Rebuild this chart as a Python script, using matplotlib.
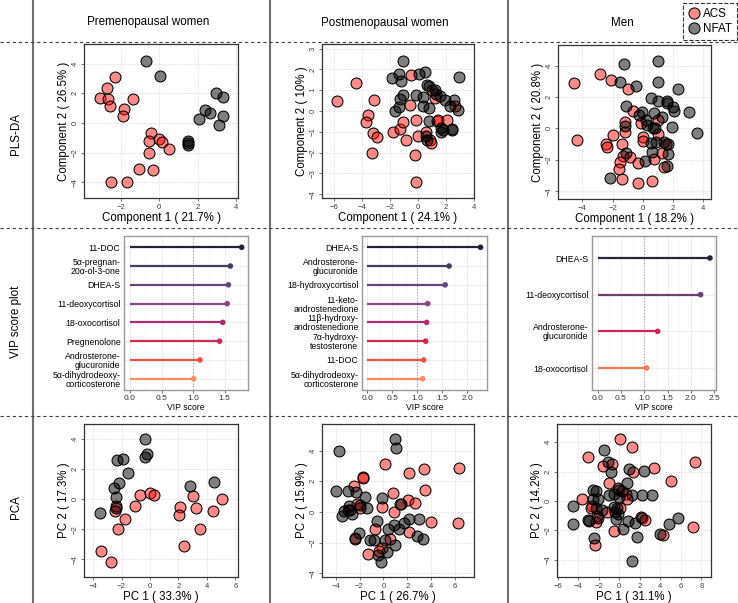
import matplotlib
matplotlib.use('Agg')
import matplotlib.pyplot as plt
from matplotlib.lines import Line2D
import numpy as np

plt.rcParams['font.family'] = ['Liberation Sans', 'DejaVu Sans']

# ---------------- DATA ----------------
col_titles = ["Premenopausal women", "Postmenopausal women", "Men"]
row_titles = ["PLS-DA", "VIP score plot", "PCA"]
groups = ["ACS", "NFAT"]

# PLS-DA premenopausal
pre_pls_acs_x = [-2.3, -2.7, -3.08, -2.64, -2.54, -1.81, -1.86, -1.34, -0.43, -0.5, 0.02, 0.14, -0.54, 0.54, -1.03, -0.3, -2.5, -1.69]
pre_pls_acs_y = [3.08, 2.36, 1.69, 1.62, 1.12, 0.97, 0.49, 1.64, -0.67, -1.19, -1.08, -1.28, -2.02, -1.78, -3.1, -3.21, -4.0, -3.98]
pre_pls_nfat_x = [-0.66, 0.05, 2.96, 3.3, 2.4, 2.66, 2.05, 3.3, 3.13, 1.51, 1.51, 1.51]
pre_pls_nfat_y = [4.2, 3.15, 2.02, 1.73, 0.9, 0.65, 0.27, 0.45, -0.13, -1.24, -1.35, -1.48]

# PLS-DA postmenopausal
post_pls_acs_x = [-5.82, -4.44, -3.16, -3.61, -3.75, -3.21, -2.97, -3.33, -1.78, -1.31, -1.07, -0.88, -0.59, -0.52, -0.19, 0.0, -0.26, -0.12, 0.59, 0.83, 0.9, 1.02, 1.21, 1.35, 1.43, 2.09, 2.61]
post_pls_acs_y = [0.5, 1.35, 0.54, -0.21, -0.53, -1.06, -1.27, -2.02, -1.03, -0.87, -0.53, -1.38, 0.3, 1.75, -0.42, -1.22, -2.13, -3.43, -1.01, -1.38, -1.54, 0.99, 0.63, -0.46, -0.42, -0.42, 0.26]
post_pls_nfat_x = [-1.12, -1.38, -1.9, -1.24, -1.12, -1.31, -1.35, -1.64, -0.19, 0.07, 0.48, 0.64, 0.78, 0.36, 0.36, 0.76, 0.78, 1.21, 1.31, 1.54, 1.9, 2.26, 2.54, 2.85, 2.9, 1.66, 1.66, 1.78, 2.4, 2.4, 0.55, 0.64]
post_pls_nfat_y = [2.42, 1.78, 1.59, 1.46, 0.79, 0.58, 0.18, 0.02, 0.77, 1.79, 1.86, 1.27, 1.22, 0.66, 0.26, 0.14, -0.5, 0.99, 0.83, 0.71, 0.51, 0.22, 0.54, 0.06, 1.62, -0.82, -1.01, -0.9, -0.87, -0.93, -1.19, -1.38]

# PLS-DA men
men_pls_acs_x = [-4.58, -2.84, -2.11, -0.96, -4.33, -2.44, -2.4, -2.0, -1.4, -1.18, -1.2, -1.29, -1.51, -1.56, -1.38, -0.84, -0.67, -0.33, -0.33, 0.04, 0.04, -0.13, 0.64, 0.78, 1.04, 1.04, 1.27, 1.38, 1.56]
men_pls_acs_y = [2.89, 3.44, 3.08, 2.51, -0.74, -1.02, -1.17, -0.42, -1.0, 0.42, -0.25, -1.74, -2.17, -2.61, -3.23, -1.8, 1.1, -3.46, -2.19, -0.53, -0.81, 0.32, -3.35, -1.97, 0.53, -0.36, -1.59, -2.44, -1.0]
men_pls_nfat_x = [-1.22, 1.04, -1.51, -0.47, 1.04, 2.33, 0.53, 1.04, 1.6, 1.64, 2.0, 2.09, 3.04, -1.13, -0.07, -0.24, 0.22, 0.27, 0.67, 0.82, 0.78, 1.27, 1.93, 3.6, -1.18, -1.11, 0.56, 0.6, 0.89, 1.38, 1.71, 1.71, 1.6, 0.16, -2.18]
men_pls_nfat_y = [4.08, 4.29, 2.97, 2.7, 2.97, 2.51, 1.95, 1.76, 1.76, 1.59, 1.38, 1.1, 1.06, 1.42, 1.02, 0.85, 0.53, 0.21, 0.04, 0.0, 0.96, 0.74, 0.11, -0.32, 0.15, -1.59, -0.96, -1.49, -0.85, -0.89, -1.0, -1.63, -2.38, -2.06, -3.14]

# VIP scores
pre_vip_labels = ["11-DOC", "5α-pregnan-\n20α-ol-3-one", "DHEA-S", "11-deoxycortisol", "18-oxocortisol", "Pregnenolone", "Androsterone-\nglucuronide", "5α-dihydrodeoxy-\ncorticosterone"]
pre_vip_values = [1.77, 1.59, 1.56, 1.54, 1.47, 1.42, 1.11, 1.01]
post_vip_labels = ["DHEA-S", "Androsterone-\nglucuronide", "18-hydroxycortisol", "11-keto-\nandrostenedione", "11β-hydroxy-\nandrostenedione", "7α-hydroxy-\ntestosterone", "11-DOC", "5α-dihydrodeoxy-\ncorticosterone"]
post_vip_values = [2.27, 1.64, 1.56, 1.21, 1.19, 1.17, 1.13, 1.11]
men_vip_labels = ["DHEA-S", "11-deoxycortisol", "Androsterone-\nglucuronide", "18-oxocortisol"]
men_vip_values = [2.41, 2.21, 1.29, 1.05]

# PCA premenopausal
pre_pca_acs_x = [-0.71, 0.0, 0.28, -1.06, -2.4, -2.45, -1.76, -2.24, -3.41, -2.71, 3.01, 2.12, 2.05, 3.25, 5.06, 4.4, 3.53, 2.42]
pre_pca_acs_y = [0.27, 0.42, 0.27, -0.44, -0.44, -0.78, -1.33, -1.96, -3.47, -4.18, 0.2, -0.51, -1.07, -0.62, 0.04, -0.8, -2.0, -3.13]
pre_pca_nfat_x = [-0.35, -0.24, -0.35, -2.31, -1.88, -1.53, -2.19, -2.54, -2.4, -3.53, 2.78, 4.52, -2.4]
pre_pca_nfat_y = [4.0, 2.98, 2.82, 2.6, 2.67, 1.76, 1.09, 0.76, 0.16, -0.89, 0.89, 1.11, -0.62]

# PCA postmenopausal
post_pca_acs_x = [0.14, -1.75, -1.67, -2.5, 2.14, 3.39, 6.31, 3.47, 0.78, 2.08, 2.64, 1.44, -0.08, 0.92, -2.17, -1.94, -3.0, 3.97, 6.25, -0.69, 2.17, 0.56, -2.36, -1.33, -0.14, -0.33]
post_pca_acs_y = [3.09, 2.29, 2.22, 1.68, 2.51, 2.77, 2.88, 1.42, 1.2, 0.76, 0.59, 0.5, 0.33, 0.0, 0.48, 0.28, 0.11, -0.65, -0.72, -1.09, -1.31, -1.74, -1.68, -2.72, -2.33, -2.57]
post_pca_nfat_x = [0.97, 1.03, -3.75, -3.94, -3.0, -2.28, -1.5, -0.11, -2.92, -3.28, -2.78, -2.64, -3.47, -1.39, -1.94, -0.56, -2.03, -1.11, -0.83, 0.14, 0.42, 0.92, 1.33, 1.75, 2.17, 3.0, 2.83, 3.33, 0.97, 0.33, -0.42, -0.22, 1.39, -2.36]
post_pca_nfat_y = [4.75, 4.14, 3.99, 1.35, 1.35, 1.31, 0.98, 0.92, 0.37, 0.07, 0.11, -0.11, -0.28, 0.26, 0.44, -0.59, -1.37, -1.85, -1.81, -1.81, -1.15, -0.83, -1.09, -0.76, -0.44, -0.44, -1.59, -1.74, -2.18, -2.61, -2.79, -3.27, 0.5, -1.74]

# PCA men
men_pca_acs_x = [0.06, 1.2, -3.02, -1.56, -0.75, 7.37, 1.36, 3.38, 5.0, -0.97, -3.6, 0.0, 0.65, 0.78, -2.66, -2.76, 0.06, -1.23, -2.14, -2.27, 2.18, 2.5, -0.49, 4.22, 7.21, -2.37]
men_pca_acs_y = [4.21, 3.64, 2.96, 2.37, 2.48, 2.62, 1.98, 2.26, 1.37, 1.25, 0.11, 0.77, 0.46, 0.16, -0.36, -0.46, -0.46, -0.75, -1.05, -1.44, -1.14, -1.28, -2.07, -2.35, -1.78, -3.03]
men_pca_nfat_x = [-1.49, -1.14, -0.84, 0.97, 2.44, 0.71, -0.1, -2.53, -2.27, -0.97, -0.55, 0.23, 1.2, 2.18, 3.15, 0.0, -2.6, -2.05, -4.55, -2.27, -1.72, -0.52, -0.26, -0.42, -0.16, -0.32, -2.05, -3.02, -2.92, -4.48, 0.81, 1.53, 0.39, 4.84, 5.75, 3.96, 1.69, -2.44, 1.27, 2.11]
men_pca_nfat_y = [3.46, 2.62, 1.94, 2.14, 2.03, 1.23, 0.91, 0.73, 0.66, 0.39, 0.5, 0.66, 0.39, 0.39, 0.43, 0.23, 0.11, 0.11, -0.36, -0.46, -0.59, -0.41, -0.46, -0.75, -0.91, -1.21, -1.14, -1.28, -1.39, -1.59, -1.39, -1.48, -1.94, -1.55, -1.16, -2.23, -2.46, -2.51, -4.12, -1.09]

pls_xlabels = ["Component 1 ( 21.7% )", "Component 1 ( 24.1% )", "Component 1 ( 18.2% )"]
pls_ylabels = ["Component 2 ( 26.5% )", "Component 2 ( 10% )", "Component 2 ( 20.8% )"]
pca_xlabels = ["PC 1 ( 33.3% )", "PC 1 ( 26.7% )", "PC 1 ( 31.1% )"]
pca_ylabels = ["PC 2 ( 17.3% )", "PC 2 ( 15.9% )", "PC 2 ( 14.2% )"]

# ---------------- STYLE ----------------
W, H = 738, 603
fig = plt.figure(figsize=(W / 100, H / 100), dpi=100)

ACS_FACE = (1.0, 0.0, 0.0, 0.46)
NFAT_FACE = (0.0, 0.0, 0.0, 0.5)
PAL8 = ['#222236', '#463d5e', '#66457a', '#874581', '#ad2b70', '#d0284f', '#f05043', '#f78d62']
PAL4 = ['#262638', '#6e3d72', '#d0245a', '#f57a50']


def add_ax(l, t, r, b):
    return fig.add_axes([l / W, 1 - b / H, (r - l) / W, (b - t) / H])


def scatter_panel(ax, ax_, ay_, nx_, ny_, xlim, ylim, xticks, yticks, xlabel, ylabel):
    ax.scatter(ax_, ay_, s=62, facecolors=[ACS_FACE], edgecolors='black', linewidths=0.75, zorder=3)
    ax.scatter(nx_, ny_, s=62, facecolors=[NFAT_FACE], edgecolors='black', linewidths=0.75, zorder=3)
    ax.set_xlim(xlim)
    ax.set_ylim(ylim)
    ax.set_xticks(xticks)
    ax.set_yticks(yticks)
    ax.grid(True, linestyle=':', color='#cfcfcf', lw=0.6)
    ax.set_axisbelow(True)
    ax.tick_params(labelsize=5.6, colors='#404040', length=2.5, width=0.5, pad=1.5)
    for lab in ax.get_yticklabels():
        lab.set_rotation(90)
        lab.set_va('center')
    for s in ax.spines.values():
        s.set_color('#333333')
        s.set_linewidth(0.9)
    ax.set_xlabel(xlabel, fontsize=8.3, labelpad=1)
    ax.set_ylabel(ylabel, fontsize=8.3, labelpad=1)


def vip_panel(ax, labels, values, colors, xlim, xticks):
    n = len(labels)
    pos = np.arange(n, 0, -1)
    ax.axvline(1.0, color='#a0a0a0', ls=':', lw=0.8, zorder=2)
    ax.hlines(pos, 0, values, colors=colors, lw=1.6, zorder=3)
    ax.scatter(values, pos, color=colors, s=9, zorder=4)
    ax.set_xlim(xlim)
    ax.set_ylim(0.4, n + 0.6)
    ax.set_yticks(pos)
    ax.set_yticklabels(labels)
    ax.set_xticks(xticks)
    ax.set_xticks(np.arange(0.25, xlim[1], 0.5), minor=True)
    ax.set_xticklabels([f"{t:.1f}" for t in xticks])
    ax.grid(which='major', color='#ebebeb', lw=0.6)
    ax.grid(which='minor', axis='x', color='#f3f3f3', lw=0.4)
    ax.set_axisbelow(True)
    ax.tick_params(which='minor', length=0)
    ax.tick_params(axis='y', length=0, labelsize=6.3, pad=2.5, colors='black')
    ax.tick_params(axis='x', labelsize=6.0, length=2, width=0.5, colors='#333333', pad=1.5)
    for lab in ax.get_yticklabels():
        lab.set_linespacing(1.0)
    for s in ax.spines.values():
        s.set_color('#999999')
        s.set_linewidth(1.0)
    ax.set_xlabel('VIP score', fontsize=6.2, labelpad=1)


# Row 1: PLS-DA
ax1 = add_ax(84, 44, 238, 198)
scatter_panel(ax1, pre_pls_acs_x, pre_pls_acs_y, pre_pls_nfat_x, pre_pls_nfat_y,
              (-3.9, 4.1), (-5.07, 5.33), [-2, 0, 2, 4], [-4, -2, 0, 2, 4], pls_xlabels[0], pls_ylabels[0])
ax2 = add_ax(322, 44, 474, 198)
scatter_panel(ax2, post_pls_acs_x, post_pls_acs_y, post_pls_nfat_x, post_pls_nfat_y,
              (-6.89, 3.99), (-4.18, 3.22), [-6, -4, -2, 0, 2, 4], [-4, -3, -2, -1, 0, 1, 2, 3], pls_xlabels[1], pls_ylabels[1])
ax3 = add_ax(558, 45, 711, 199)
scatter_panel(ax3, men_pls_acs_x, men_pls_acs_y, men_pls_nfat_x, men_pls_nfat_y,
              (-5.62, 4.53), (-4.5, 5.31), [-4, -2, 0, 2, 4], [-4, -2, 0, 2, 4], pls_xlabels[2], pls_ylabels[2])

# Row 2: VIP
ax4 = add_ax(124, 236, 248, 390)
vip_panel(ax4, pre_vip_labels, pre_vip_values, PAL8, (-0.095, 1.87), [0.0, 0.5, 1.0, 1.5])
ax5 = add_ax(362, 236, 487, 390)
vip_panel(ax5, post_vip_labels, post_vip_values, PAL8, (-0.108, 2.4), [0.0, 0.5, 1.0, 1.5, 2.0])
ax6 = add_ax(592, 236, 716, 390)
vip_panel(ax6, men_vip_labels, men_vip_values, PAL4, (-0.12, 2.54), [0.0, 0.5, 1.0, 1.5, 2.0, 2.5])

# Row 3: PCA
ax7 = add_ax(84, 424, 238, 577)
scatter_panel(ax7, pre_pca_acs_x, pre_pca_acs_y, pre_pca_nfat_x, pre_pca_nfat_y,
              (-4.64, 6.19), (-5.18, 5.0), [-4, -2, 0, 2, 4, 6], [-4, -2, 0, 2, 4], pca_xlabels[0], pca_ylabels[0])
ax8 = add_ax(322, 424, 474, 577)
scatter_panel(ax8, post_pca_acs_x, post_pca_acs_y, post_pca_nfat_x, post_pca_nfat_y,
              (-5.14, 7.58), (-4.25, 5.73), [-4, -2, 0, 2, 4, 6], [-4, -2, 0, 2, 4], pca_xlabels[1], pca_ylabels[1])
ax9 = add_ax(557, 424, 711, 577)
scatter_panel(ax9, men_pca_acs_x, men_pca_acs_y, men_pca_nfat_x, men_pca_nfat_y,
              (-6.07, 8.93), (-5.19, 5.24), [-6, -4, -2, 0, 2, 4, 6, 8], [-4, -2, 0, 2, 4], pca_xlabels[2], pca_ylabels[2])

# Column titles and row titles
for x, y, t in zip([148, 385, 622], [22, 23, 23], col_titles):
    fig.text(x / W, 1 - y / H, t, ha='center', va='center', fontsize=8.4)
for y, t in zip([134, 322, 507], row_titles):
    fig.text(16 / W, 1 - y / H, t, ha='center', va='center', fontsize=8.4, rotation=90)

# Separators
for x in [33, 270, 508]:
    fig.add_artist(Line2D([x / W, x / W], [0, 1], transform=fig.transFigure, color='#6e6e6e', lw=1.5))
for y in [42, 228, 416]:
    fig.add_artist(Line2D([0, 1], [1 - y / H, 1 - y / H], transform=fig.transFigure,
                          color='#404040', lw=0.8, ls=(0, (3, 2.5))))

# Legend
handles = [Line2D([], [], marker='o', ls='', markersize=8, markerfacecolor=ACS_FACE,
                  markeredgecolor='black', markeredgewidth=0.75, label=groups[0]),
           Line2D([], [], marker='o', ls='', markersize=8, markerfacecolor=NFAT_FACE,
                  markeredgecolor='black', markeredgewidth=0.75, label=groups[1])]
leg = fig.legend(handles=handles, loc='upper right', bbox_to_anchor=(737 / W, 1 - 3 / H),
                 fontsize=8.4, handletextpad=0.25, borderpad=0.45, labelspacing=0.2,
                 handlelength=1.0, borderaxespad=0, fancybox=False, edgecolor='#333333',
                 framealpha=1)
leg.get_frame().set_linestyle('--')
leg.get_frame().set_linewidth(0.8)

fig.savefig('out.png', dpi=100)
